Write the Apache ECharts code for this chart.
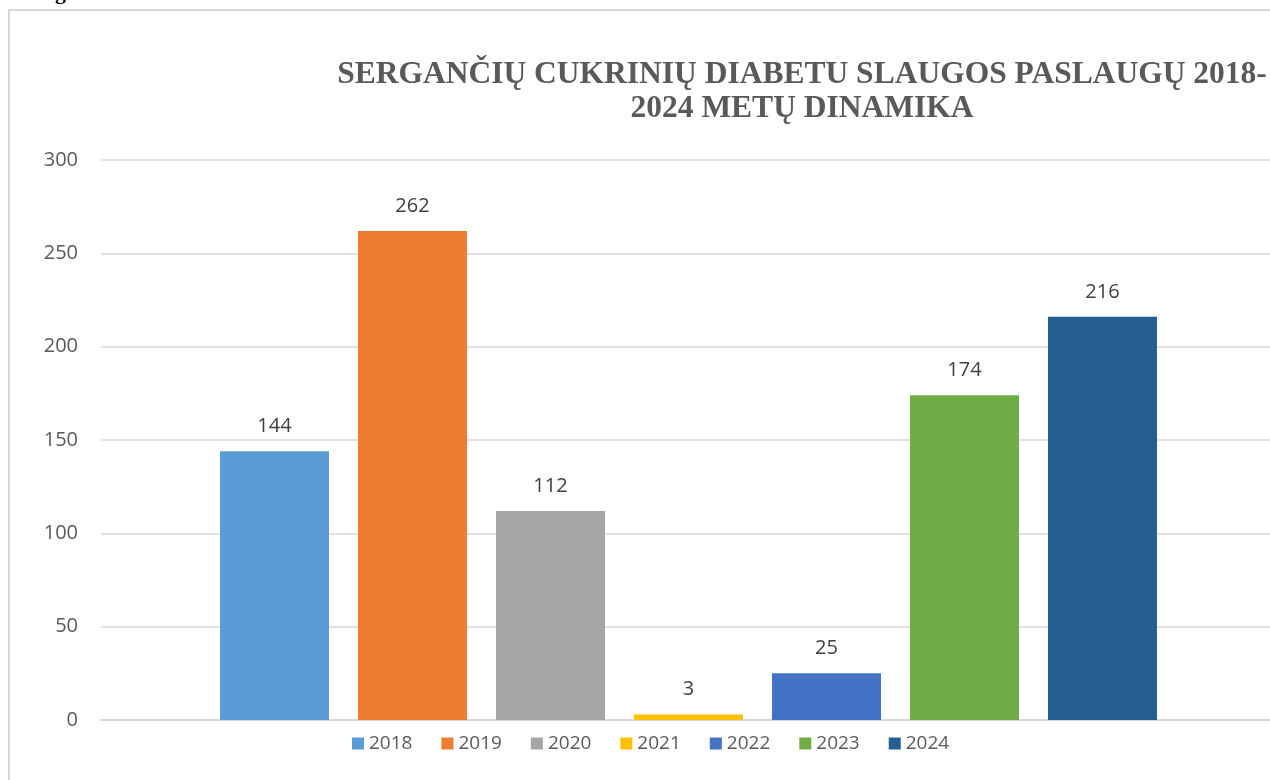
<!DOCTYPE html>
<html lang="lt">
<head>
    <meta charset="UTF-8">
    <title>Slaugos paslaugos 2018-2024</title>
    <script src="https://cdn.jsdelivr.net/npm/echarts@6/dist/echarts.min.js"></script>
    <style>
        html, body { margin: 0; padding: 0; background: #fff; overflow: hidden; }
    </style>
</head>
<body>
    <!-- šiek tiek platesnis nei langas: diagramos sritis nukirsta dešinėje -->
    <div id="main" style="width:1276px;height:780px;"></div>

    <script>
// duomenys
var years = ['2018', '2019', '2020', '2021', '2022', '2023', '2024'];
var values = [144, 262, 112, 3, 25, 174, 216];
var colors = ['#5B9BD5', '#ED7D31', '#A5A5A5', '#FFC000', '#4472C4', '#70AD47', '#255E91'];
var yTicks = [0, 50, 100, 150, 200, 250, 300];

function drawChart() {
    var myChart = echarts.init(document.getElementById('main'));

    // kiekvieni metai - atskira serija (kaip Excel diagramoje)
    var series = years.map(function (y, i) {
        return {
            name: y,
            type: 'bar',
            data: [values[i]],
            barWidth: 109,
            barGap: '26.6%',
            itemStyle: { color: colors[i] },
            label: {
                show: true,
                position: 'top',
                distance: 15,
                color: '#404040',
                fontSize: 20,
                fontFamily: 'Open Sans'
            }
        };
    });

    myChart.setOption({
        animation: false,
        title: {
            text: 'SERGANČIŲ CUKRINIŲ DIABETU SLAUGOS PASLAUGŲ 2018-\n2024 METŲ DINAMIKA',
            left: 797,
            top: 53,
            textAlign: 'center',
            textStyle: {
                fontFamily: 'Liberation Serif',
                fontWeight: 'bold',
                fontSize: 31.5,
                lineHeight: 34,
                color: '#595959'
            }
        },
        legend: {
            bottom: 22,
            left: 347,
            itemWidth: 12,
            itemHeight: 12,
            itemGap: 29,
            icon: 'rect',
            textStyle: { fontSize: 19, color: '#595959', fontFamily: 'Open Sans' },
            data: years
        },
        grid: {
            left: 101,
            right: 0,
            top: 160,
            bottom: 60
        },
        xAxis: {
            type: 'category',
            data: [''],
            axisLine: { show: true, lineStyle: { color: '#d9d9d9', width: 2 } },
            axisTick: { show: false },
            axisLabel: { show: false }
        },
        yAxis: {
            type: 'value',
            min: yTicks[0],
            max: yTicks[yTicks.length - 1],
            interval: 50,
            axisLine: { show: false },
            axisTick: { show: false },
            axisLabel: { color: '#595959', fontSize: 20, fontFamily: 'Open Sans', margin: 23 },
            splitLine: { lineStyle: { color: '#d9d9d9', width: 1.5 } }
        },
        graphic: [
            {
                type: 'rect',
                shape: { x: 9, y: 10, width: 1400, height: 900 },
                style: { fill: 'none', stroke: '#d9d9d9', lineWidth: 2 },
                silent: true
            },
            {
                type: 'text',
                left: 55,
                top: -18,
                style: { text: 'g', font: 'bold 22px "Liberation Serif"', fill: '#000' },
                silent: true
            }
        ],
        series: series
    });

    window.onresize = function () {
        myChart.resize();
    };
}

drawChart();
    </script>
</body>
</html>
